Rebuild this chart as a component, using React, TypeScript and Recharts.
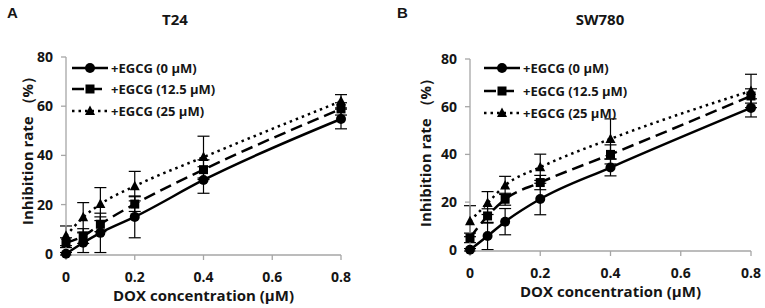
import React from "react";
import { LineChart, Line, XAxis, YAxis, ErrorBar } from "recharts";

// DOX doses (µM) and axis ticks
const DOSES = [0, 0.05, 0.1, 0.2, 0.4, 0.8];
const X_TICKS = [0, 0.2, 0.4, 0.6, 0.8];
const Y_TICKS = [0, 20, 40, 60, 80];
const SERIES_NAMES = ["+EGCG (0 μM)", "+EGCG (12.5 μM)", "+EGCG (25 μM)"];

// T24 inhibition rate (%) and error (±)
const T24_EGCG0 = [0, 4.5, 8.5, 15, 30, 54.8];
const T24_EGCG0_ERR = [0.5, 4, 8, 8.5, 5.4, 4];
const T24_EGCG12 = [4.5, 7.2, 12, 20.2, 34.2, 58.9];
const T24_EGCG12_ERR = [2, 3, 3, 3, 4, 2.5];
const T24_EGCG25 = [7.3, 14.8, 20.2, 27.5, 39.3, 62];
const T24_EGCG25_ERR = [4, 6, 6.7, 6, 8.5, 2.7];

// SW780 inhibition rate (%) and error (±)
const SW780_EGCG0 = [0, 5.8, 11.8, 21.3, 34.5, 59.5];
const SW780_EGCG0_ERR = [0.5, 5.7, 5.5, 6.6, 3.5, 3.8];
const SW780_EGCG12 = [5, 14.2, 21.2, 28.2, 40, 64.5];
const SW780_EGCG12_ERR = [2, 3, 2.5, 3, 4, 3];
const SW780_EGCG25 = [12, 19.6, 27, 34.6, 46.5, 66.6];
const SW780_EGCG25_ERR = [6.5, 4.8, 3.8, 5.5, 8.4, 7];

const FONT = "'Open Sans', Arial, sans-serif";
const INK = "#151515";
const AXIS = "#a6a6a6";

const STYLES = [
  { shape: "circle", dash: undefined },
  { shape: "square", dash: "12 6" },
  { shape: "triangle", dash: "2.5 4" },
];

function Marker({ shape, cx, cy }: { shape: string; cx: number; cy: number }) {
  if (shape === "circle") return <circle cx={cx} cy={cy} r={5} fill="#000" />;
  if (shape === "square")
    return <rect x={cx - 4.5} y={cy - 4.5} width={9} height={9} fill="#000" />;
  return <path d={`M${cx},${cy - 5.5}L${cx + 5},${cy + 4}L${cx - 5},${cy + 4}Z`} fill="#000" />;
}

function buildRows(means: number[][], errs: number[][]) {
  return DOSES.map((dose, i) => {
    const row: Record<string, number> = { dose };
    means.forEach((m, k) => {
      row[`s${k}`] = m[i];
      row[`e${k}`] = errs[k][i];
    });
    return row;
  });
}

const t24Rows = buildRows(
  [T24_EGCG0, T24_EGCG12, T24_EGCG25],
  [T24_EGCG0_ERR, T24_EGCG12_ERR, T24_EGCG25_ERR]
);
const sw780Rows = buildRows(
  [SW780_EGCG0, SW780_EGCG12, SW780_EGCG25],
  [SW780_EGCG0_ERR, SW780_EGCG12_ERR, SW780_EGCG25_ERR]
);

type PanelProps = {
  left: number;
  letter: string;
  title: string;
  rows: Record<string, number>[];
  margin: { top: number; right: number; bottom: number; left: number };
  yAxisWidth: number;
  yLabelX: number;
  yLabelY: number;
  titleX: number;
  letterX: number;
  legendLeft: number;
  legendTop: number;
  legendGap: number;
};

function Legend({ left, top, gap }: { left: number; top: number; gap: number }) {
  return (
    <div style={{ position: "absolute", left, top, fontFamily: FONT, fontWeight: 700, fontSize: 13, color: INK }}>
      {SERIES_NAMES.map((name, k) => (
        <div key={name} style={{ display: "flex", alignItems: "center", height: gap }}>
          <svg width={36} height={14} style={{ marginRight: 3 }}>
            <line x1={0} y1={7} x2={36} y2={7} stroke="#000" strokeWidth={2.5} strokeDasharray={STYLES[k].dash} />
            <Marker shape={STYLES[k].shape} cx={18} cy={7} />
          </svg>
          <span style={{ whiteSpace: "nowrap" }}>{name}</span>
        </div>
      ))}
    </div>
  );
}

function Panel(p: PanelProps) {
  return (
    <div style={{ position: "absolute", left: p.left, top: 0, width: 380, height: 308 }}>
      <LineChart width={380} height={308} data={p.rows} margin={p.margin}>
        <XAxis
          dataKey="dose"
          type="number"
          domain={[0, 0.8]}
          ticks={X_TICKS}
          height={50}
          stroke={AXIS}
          strokeWidth={1.3}
          tickSize={5}
          tickMargin={12}
          tick={{ fill: INK, fontFamily: FONT, fontWeight: 700, fontSize: 14 }}
          label={{
            value: "DOX concentration (μM)",
            position: "insideBottom",
            offset: 4,
            fill: INK,
            fontFamily: FONT,
            fontWeight: 700,
            fontSize: 15,
          }}
        />
        <YAxis
          domain={[0, 80]}
          ticks={Y_TICKS}
          width={p.yAxisWidth}
          stroke={AXIS}
          strokeWidth={1.3}
          tickSize={5}
          tickMargin={8}
          tick={{ fill: INK, fontFamily: FONT, fontWeight: 700, fontSize: 14 }}
          label={() => (
            <text
              x={p.yLabelX}
              y={p.yLabelY}
              transform={`rotate(-90 ${p.yLabelX} ${p.yLabelY})`}
              textAnchor="middle"
              dominantBaseline="central"
              fill={INK}
              fontFamily={FONT}
              fontWeight={700}
              fontSize={15}
            >
              Inhibition rate （%）
            </text>
          )}
        />
        {STYLES.map((s, k) => (
          <Line
            key={k}
            dataKey={`s${k}`}
            type="monotone"
            stroke="#000"
            strokeWidth={2.5}
            strokeDasharray={s.dash}
            isAnimationActive={false}
            dot={(d: any) => <Marker key={d.index} shape={s.shape} cx={d.cx} cy={d.cy} />}
          >
            <ErrorBar dataKey={`e${k}`} direction="y" width={6} stroke="#000" strokeWidth={1.2} />
          </Line>
        ))}
      </LineChart>
      <div style={{ position: "absolute", left: p.letterX, top: 4, fontFamily: "Arial, sans-serif", fontWeight: 700, fontSize: 15, color: INK }}>
        {p.letter}
      </div>
      <div
        style={{
          position: "absolute",
          left: p.titleX - 60,
          width: 120,
          top: 9,
          textAlign: "center",
          fontFamily: FONT,
          fontWeight: 700,
          fontSize: 15,
          color: INK,
        }}
      >
        {p.title}
      </div>
      <Legend left={p.legendLeft} top={p.legendTop} gap={p.legendGap} />
    </div>
  );
}

export default function App() {
  return (
    <div style={{ position: "absolute", left: 0, top: 0, width: 765, height: 308, background: "#fff" }}>
      <Panel
        left={0}
        letter="A"
        title="T24"
        rows={t24Rows}
        margin={{ top: 57, right: 39, bottom: 3, left: 0 }}
        yAxisWidth={66}
        yLabelX={27}
        yLabelY={147}
        titleX={175}
        letterX={7}
        legendLeft={72}
        legendTop={57}
        legendGap={21.5}
      />
      <Panel
        left={385}
        letter="B"
        title="SW780"
        rows={sw780Rows}
        margin={{ top: 59, right: 14, bottom: 7, left: 0 }}
        yAxisWidth={85}
        yLabelX={40}
        yLabelY={149}
        titleX={215}
        letterX={12}
        legendLeft={99}
        legendTop={57}
        legendGap={22.5}
      />
    </div>
  );
}
